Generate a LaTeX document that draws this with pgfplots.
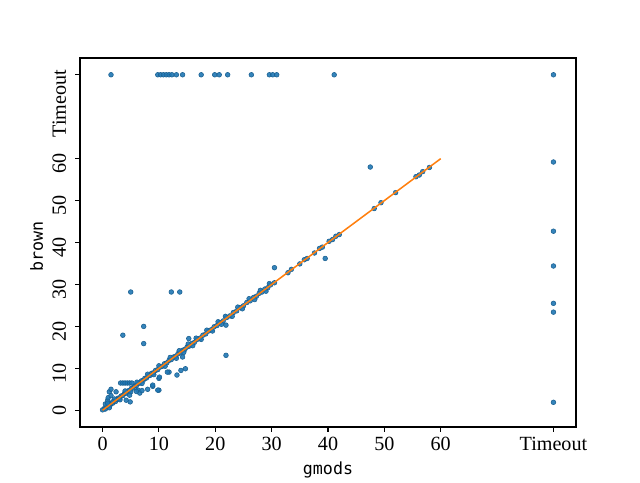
\documentclass[border=0pt]{standalone}
\usepackage{pgfplots}
\pgfplotsset{compat=1.18}
\usepackage{fontspec}
\setmainfont{Liberation Serif}
\newfontfamily\monofont{DejaVu Sans Mono}
\definecolor{tabblue}{HTML}{1F77B4}
\definecolor{taborange}{HTML}{FF7F0E}
\pgfplotstableread{
x y
0 0.1
0.3 0.4
0.5 0.3
0.8 0.9
1.0 1.2
1.3 1.1
1.5 1.6
1.8 1.7
2.0 2.2
2.3 2.1
2.5 2.6
2.8 2.9
3.0 2.8
3.3 3.4
3.6 3.5
3.9 4.0
4.2 4.1
4.5 4.6
4.8 4.7
5.1 5.2
5.4 5.3
5.7 5.8
6.0 5.9
6.3 6.4
6.6 6.5
6.9 7.0
7.2 7.1
7.5 7.6
7.8 7.7
8.1 8.2
8.4 8.3
8.7 8.8
9.0 8.9
9.4 9.5
9.8 9.7
10.2 10.3
10.6 10.5
11.0 11.1
11.4 11.3
11.8 11.9
12.2 12.1
12.6 12.7
13.0 12.9
13.4 13.5
13.8 13.7
14.2 14.3
14.6 14.5
15.0 15.1
15.4 15.3
15.8 15.9
16.3 16.2
16.8 16.9
17.3 17.2
17.8 17.9
18.3 18.2
18.8 18.9
19.3 19.2
19.8 19.9
20.3 20.2
20.8 20.9
21.4 21.3
22.0 22.1
22.6 22.5
23.2 23.3
23.8 23.7
24.4 24.5
25.0 24.9
25.6 25.7
26.2 26.1
26.8 26.9
27.3 27.2
27.8 27.9
28.3 28.2
28.8 28.9
29.3 29.2
29.8 29.9
30.5 30.4
32.9 32.8
33.5 33.6
35.0 34.9
35.8 35.9
36.3 36.2
37.6 37.5
38.5 38.6
39.0 38.9
40.2 40.3
40.8 40.7
41.4 41.5
42.0 41.9
48.2 48.1
49.4 49.5
52.0 51.9
55.6 55.7
56.2 56.1
56.8 56.9
58.0 57.9
1.2 0.6
2.1 2.7
3.1 2.5
4.0 4.6
5.0 4.4
6.1 6.7
7.0 6.4
8.0 8.6
9.1 8.5
10.0 10.6
11.1 10.5
12.0 12.6
13.1 12.4
13.6 14.2
14.4 13.8
15.2 15.8
16.0 15.4
16.6 17.2
17.5 16.9
18.5 19.1
19.5 18.9
20.5 21.1
21.1 20.5
21.8 22.4
23.0 22.4
24.0 24.6
24.8 24.2
26.0 26.6
27.0 26.4
28.0 28.6
29.0 28.4
29.6 30.2
3.6 17.9
7.3 20.0
7.3 15.9
15.3 17.1
21.9 13.1
11.8 9.1
13.9 9.5
14.7 9.9
13.2 8.4
10.0 7.6
8.9 5.7
10.0 4.8
14.2 12.7
21.9 20.3
5.0 28.2
12.2 28.2
13.7 28.2
30.5 34.0
39.5 36.2
47.5 58.0
3.2 6.5
3.6 6.5
4.0 6.5
4.4 6.5
4.8 6.5
5.2 6.5
1.2 4.4
2.4 4.4
0.9 2.4
4.2 2.4
4.8 3.6
6.3 4.8
6.6 4.1
8.9 6.0
9.8 4.8
10.1 7.9
11.5 9.1
1.0 3.0
1.5 5.0
0.5 1.5
1.8 2.0
6.0 4.5
7.0 4.7
8.0 5.0
4.9 2.0
0.9 1.7
1.5 3.5
1.5 80
9.8 80
10.3 80
10.8 80
11.3 80
11.8 80
12.3 80
13.1 80
14.2 80
17.5 80
19.9 80
20.7 80
22.2 80
26.4 80
29.6 80
30.2 80
30.9 80
41.1 80
80 80
80 59.2
80 42.7
80 34.4
80 25.5
80 23.4
80 1.9
}\points
\begin{document}
\begin{tikzpicture}
\begin{axis}[
  name=ax,
  scale only axis,
  width=357.1pt, height=265.7pt,
  xmin=-4, xmax=84, ymin=-4, ymax=84,
  clip marker paths=true,
  xtick={0,10,20,30,40,50,60,80},
  xticklabels={0,10,20,30,40,50,60,Timeout},
  ytick={0,10,20,30,40,50,60,80},
  yticklabels={0,10,20,30,40,50,60,Timeout},
  yticklabel style={rotate=90, anchor=south east, xshift=7pt, yshift=3pt},
  ticklabel style={font=\fontsize{14.5}{16}\selectfont},
  /pgf/number format/assume math mode=true,
  tick align=outside,
  major tick length=3.5pt,
  xtick pos=bottom, ytick pos=left,
  axis line style={line width=0.8pt},
  every tick/.style={black, line width=0.8pt},
  xlabel={\monofont\fontsize{12}{14}\selectfont gmods},
  ylabel={\monofont\fontsize{12}{14}\selectfont brown},
  xlabel style={at={(0.5,-0.128)}, anchor=base},
  every axis y label/.style={at={(-0.075,0.49)}, anchor=base, rotate=90},
]
\addplot[only marks, mark=*, mark size=1.7pt,
  mark options={fill=tabblue, draw=tabblue!80!black, fill opacity=0.9}]
  table[x=x, y=y] {\points};
\addplot[taborange, line width=1.1pt] coordinates {(0,0) (60,60)};
\end{axis}
\path[use as bounding box] ([shift={(-57.6pt,-38.16pt)}]ax.south west)
  rectangle ([shift={(46.08pt,41.76pt)}]ax.north east);
\end{tikzpicture}
\end{document}
